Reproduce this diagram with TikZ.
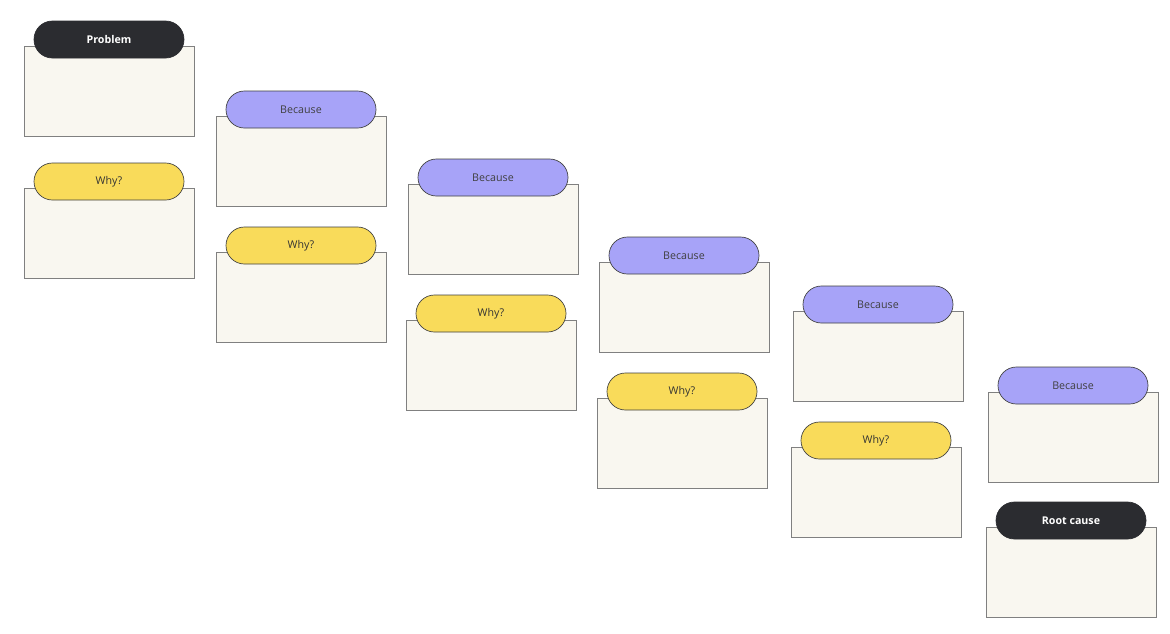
\documentclass[tikz,border=0pt]{standalone}
\usepackage{fontspec}
\setmainfont{Open Sans}
\usepackage{xcolor}
\definecolor{CardFill}{RGB}{249,247,240}
\definecolor{CardLine}{RGB}{128,128,128}
\definecolor{DarkPill}{RGB}{43,44,48}
\definecolor{BecausePill}{RGB}{167,163,248}
\definecolor{WhyPill}{RGB}{249,219,90}
\usepackage{tikz}
\usetikzlibrary{positioning}

\tikzset{
  card/.style={draw=CardLine,fill=CardFill,line width=0.6pt,anchor=north west,
    minimum width=127.5pt,minimum height=67.5pt,inner sep=0pt,outer sep=0pt},
  pill/.style={draw=black!75,line width=0.5pt,rounded corners=13.8pt,
    minimum width=112.5pt,minimum height=27.75pt,inner sep=0pt,outer sep=0pt,
    font=\fontsize{8}{10}\selectfont,above=-9pt of #1},
  darkpill/.style={pill=#1,fill=DarkPill,draw=DarkPill,text=white,font=\fontsize{8}{10}\selectfont\bfseries},
  becausepill/.style={pill=#1,fill=BecausePill,text=black!75},
  whypill/.style={pill=#1,fill=WhyPill,text=black!80},
}

\begin{document}
\begin{tikzpicture}[x=0.75pt,y=-0.75pt]
  \useasboundingbox[fill=white] (0,0) rectangle (1170,633);
  % column 1
  \node[card] (prob) at (24,46) {};
  \node[darkpill=prob] (probL) {Problem};
  \node[card] (why1) at (24,188) {};
  \node[whypill=why1] (why1L) {Why?};
  % column 2
  \node[card] (bec1) at (216,116) {};
  \node[becausepill=bec1] (bec1L) {Because};
  \node[card] (why2) at (216,252) {};
  \node[whypill=why2] (why2L) {Why?};
  % column 3
  \node[card] (bec2) at (408,184) {};
  \node[becausepill=bec2] (bec2L) {Because};
  \node[card] (why3) at (406,320) {};
  \node[whypill=why3] (why3L) {Why?};
  % column 4
  \node[card] (bec3) at (599,262) {};
  \node[becausepill=bec3] (bec3L) {Because};
  \node[card] (why4) at (597,398) {};
  \node[whypill=why4] (why4L) {Why?};
  % column 5
  \node[card] (bec4) at (793,311) {};
  \node[becausepill=bec4] (bec4L) {Because};
  \node[card] (why5) at (791,447) {};
  \node[whypill=why5] (why5L) {Why?};
  % column 6
  \node[card] (bec5) at (988,392) {};
  \node[becausepill=bec5] (bec5L) {Because};
  \node[card] (root) at (986,527) {};
  \node[darkpill=root] (rootL) {Root cause};
\end{tikzpicture}
\end{document}
